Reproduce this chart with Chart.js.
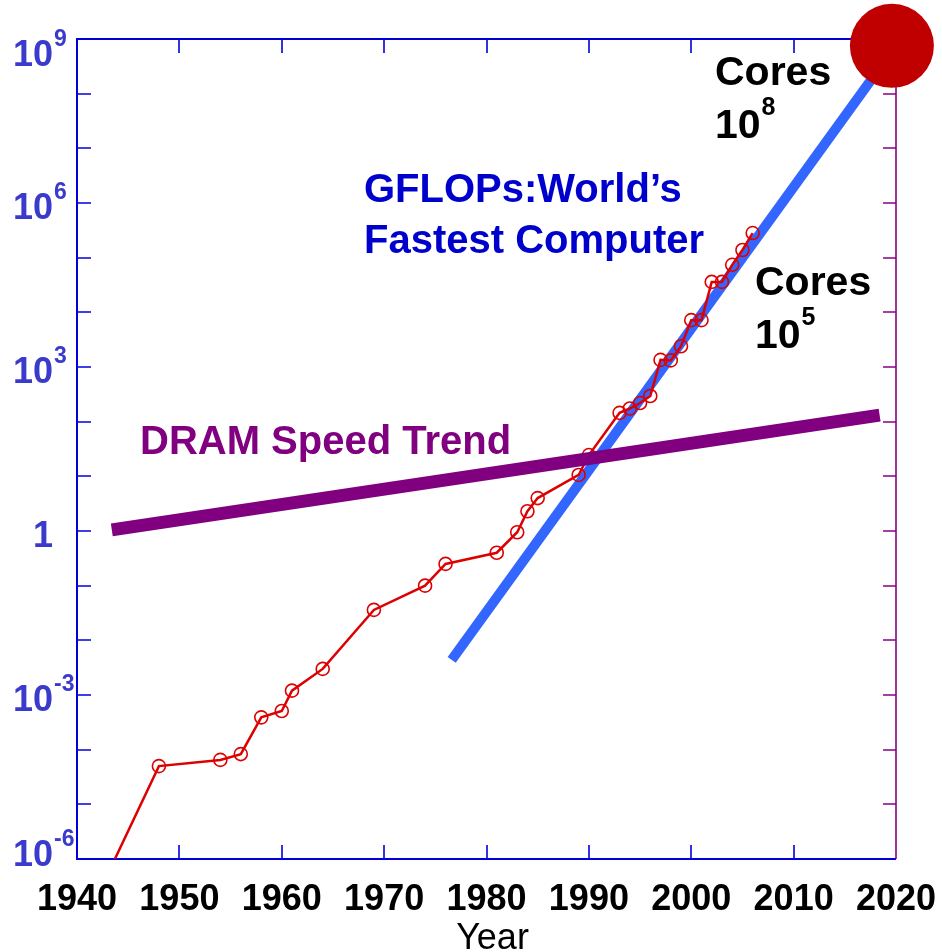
<!DOCTYPE html>
<html>
<head>
<meta charset="utf-8">
<script src="https://cdn.jsdelivr.net/npm/chart.js@4.4.0/dist/chart.umd.min.js"></script>
<style>
  html, body { margin: 0; padding: 0; background: #fff; }
</style>
</head>
<body>
<canvas id="chart" width="942" height="952"></canvas>
<script>
// GFLOPs of the world's fastest computer
const years = [1943.7, 1948, 1954, 1956, 1958, 1960, 1961, 1964, 1969, 1974, 1976, 1981, 1983, 1984, 1985,
  1989, 1990, 1993, 1994, 1995, 1996, 1997, 1998, 1999, 2000, 2001, 2002, 2003, 2004, 2005, 2006]
const gflops = [1e-6, 5.0e-5, 6.5e-5, 8.3e-5, 3.9e-4, 5.1e-4, 1.2e-3, 3.0e-3, 0.036, 0.1, 0.25, 0.40, 0.95, 2.3, 4.0,
  10.6, 24.5, 145, 174, 219, 295, 1350, 1320, 2400, 7200, 7200, 36000, 36000, 74000, 138000, 282000]

// trend lines
const trendYears = [1976.6, 2019.6]
const trendGflops = [4.4e-3, 6.0e8]
const dramYears = [1943.4, 2018.4]
const dramSpeed = [1.05, 132]

// big red dot (cores 10^9)
const coreYears = [2019.6]
const coreValues = [7.5e8]

// axes
const xTicks = [1940, 1950, 1960, 1970, 1980, 1990, 2000, 2010, 2020]
const yTicks = [1e-6, 1e-5, 1e-4, 1e-3, 1e-2, 1e-1, 1, 10, 100, 1e3, 1e4, 1e5, 1e6, 1e7, 1e8, 1e9]
const yLabelValues = [1e9, 1e6, 1e3, 1, 1e-3, 1e-6]
const yLabelBase = ['10', '10', '10', '1', '10', '10']
const yLabelExp = ['9', '6', '3', '', '-3', '-6']

const toXY = (xs, ys) => xs.map((v, i) => ({ x: v, y: ys[i] }))

const FONT = '"Liberation Sans", Arial, Helvetica, sans-serif'

function supText(ctx, base, exp, x, y, baseSize, supSize, color) {
    ctx.fillStyle = color
    ctx.textAlign = 'left'
    ctx.font = `bold ${baseSize}px ${FONT}`
    ctx.fillText(base, x, y)
    const w = ctx.measureText(base).width
    if (exp) {
        ctx.font = `bold ${supSize}px ${FONT}`
        ctx.fillText(exp, x + w + 1, y - baseSize * 0.55)
    }
}

const frame = {
    id: 'frame',
    beforeDatasetsDraw(chart) {
        const { ctx, chartArea: a, scales: { x, y } } = chart
        ctx.save()
        // left / bottom / top axis
        ctx.strokeStyle = '#0000dd'
        ctx.lineWidth = 2
        ctx.beginPath()
        ctx.moveTo(a.right, a.top)
        ctx.lineTo(a.left, a.top)
        ctx.lineTo(a.left, a.bottom)
        ctx.lineTo(a.right, a.bottom)
        ctx.stroke()

        ctx.lineWidth = 1.6
        ctx.beginPath()
        xTicks.slice(1, -1).forEach(t => {
            const px = Math.round(x.getPixelForValue(t))
            ctx.moveTo(px, a.bottom); ctx.lineTo(px, a.bottom - 14)
            ctx.moveTo(px, a.top); ctx.lineTo(px, a.top + 14)
        })
        yTicks.slice(1, -1).forEach(t => {
            const py = Math.round(y.getPixelForValue(t))
            ctx.moveTo(a.left, py); ctx.lineTo(a.left + 14, py)
        })
        ctx.stroke()

        // right axis, purple
        ctx.strokeStyle = '#880088'
        ctx.lineWidth = 1.6
        ctx.beginPath()
        ctx.moveTo(a.right, a.top)
        ctx.lineTo(a.right, a.bottom)
        yTicks.slice(1, -1).forEach(t => {
            const py = Math.round(y.getPixelForValue(t))
            ctx.moveTo(a.right, py); ctx.lineTo(a.right - 13, py)
        })
        ctx.stroke()

        // y labels
        ctx.textBaseline = 'alphabetic'
        yLabelValues.forEach((v, i) => {
            let cy = y.getPixelForValue(v) + 3
            cy = Math.min(Math.max(cy, 53), 853)
            const base = cy + 13
            ctx.font = `bold 36px ${FONT}`
            const w = ctx.measureText(yLabelBase[i]).width
            ctx.fillStyle = '#3a3acc'
            ctx.textAlign = 'left'
            ctx.fillText(yLabelBase[i], 53 - w, base)
            if (yLabelExp[i]) {
                ctx.font = `bold 23px ${FONT}`
                ctx.fillText(yLabelExp[i], 54, base - 20)
            }
        })

        // x labels
        ctx.fillStyle = '#000'
        ctx.textAlign = 'center'
        ctx.font = `bold 36px ${FONT}`
        xTicks.forEach(t => {
            ctx.fillText(String(t), x.getPixelForValue(t), 910)
        })
        ctx.font = `36px ${FONT}`
        ctx.fillText('Year', (a.left + a.right) / 2 + 6, 949)
        ctx.restore()
    },
    afterDatasetsDraw(chart) {
        const { ctx } = chart
        ctx.save()
        ctx.textBaseline = 'alphabetic'
        ctx.textAlign = 'left'

        ctx.fillStyle = '#800080'
        ctx.font = `bold 40px ${FONT}`
        ctx.fillText('DRAM Speed Trend', 140, 454)

        ctx.fillStyle = '#0000cc'
        ctx.fillText('GFLOPs:World\u2019s', 364, 202)
        ctx.fillText('Fastest Computer', 364, 253)

        ctx.fillStyle = '#000'
        ctx.font = `bold 41px ${FONT}`
        ctx.fillText('Cores', 715, 85)
        supText(ctx, '10', '8', 715, 138, 41, 25, '#000')
        ctx.font = `bold 41px ${FONT}`
        ctx.fillText('Cores', 755, 295)
        supText(ctx, '10', '5', 755, 348, 41, 25, '#000')
        ctx.restore()
    }
}

new Chart(document.getElementById('chart'), {
    type: 'line',
    data: {
        datasets: [
            {
                label: 'Cores',
                data: toXY(coreYears, coreValues),
                showLine: false,
                pointRadius: 42,
                pointBackgroundColor: '#c00000',
                pointBorderWidth: 0,
                clip: false
            },
            {
                label: 'DRAM Speed Trend',
                data: toXY(dramYears, dramSpeed),
                borderColor: '#800080',
                borderWidth: 13,
                borderCapStyle: 'butt',
                pointRadius: 0
            },
            {
                label: 'GFLOPs',
                data: toXY(years, gflops),
                borderColor: '#dd0000',
                borderWidth: 2.5,
                pointRadius: ctx => ctx.dataIndex === 0 ? 0 : 6.5,
                pointBorderColor: '#dd0000',
                pointBorderWidth: 1.6,
                pointBackgroundColor: 'rgba(0,0,0,0)',
                tension: 0
            },
            {
                label: 'GFLOPs trend',
                data: toXY(trendYears, trendGflops),
                borderColor: '#3366ff',
                borderWidth: 10,
                borderCapStyle: 'butt',
                pointRadius: 0
            }
        ]
    },
    options: {
        responsive: false,
        animation: false,
        devicePixelRatio: 1,
        layout: { autoPadding: false, padding: { left: 77, top: 39, right: 46, bottom: 93 } },
        scales: {
            x: { type: 'linear', min: 1940, max: 2020, display: false },
            y: { type: 'logarithmic', min: 1e-6, max: 1e9, display: false }
        },
        plugins: {
            legend: { display: false },
            tooltip: { enabled: false }
        }
    },
    plugins: [frame]
})
</script>
</body>
</html>
